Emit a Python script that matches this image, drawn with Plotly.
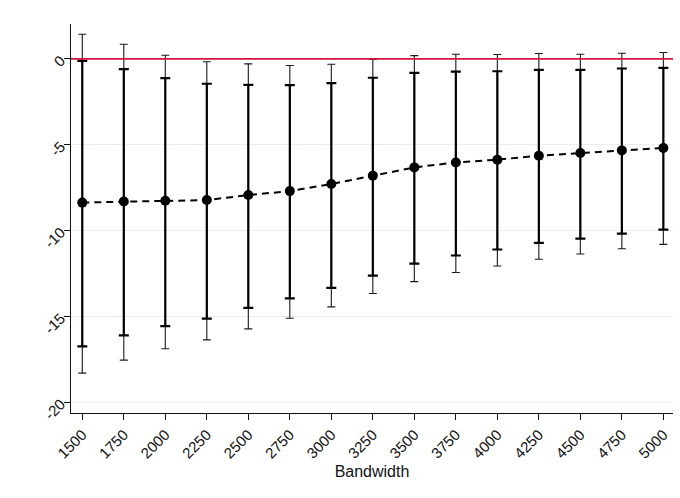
import plotly.graph_objects as go

# Bandwidths and estimated effects with 90% and 95% confidence bounds
bandwidth = [1500, 1750, 2000, 2250, 2500, 2750, 3000, 3250, 3500, 3750, 4000, 4250, 4500, 4750, 5000]
estimate = [-8.37, -8.31, -8.26, -8.22, -7.93, -7.70, -7.29, -6.80, -6.32, -6.03, -5.87, -5.64, -5.48, -5.33, -5.19]
ci90_hi = [-0.12, -0.60, -1.12, -1.45, -1.51, -1.53, -1.41, -1.10, -0.81, -0.74, -0.72, -0.64, -0.64, -0.56, -0.52]
ci90_lo = [-16.74, -16.10, -15.56, -15.12, -14.50, -13.95, -13.33, -12.62, -11.92, -11.45, -11.10, -10.72, -10.47, -10.17, -9.94]
ci95_hi = [1.43, 0.85, 0.21, -0.17, -0.29, -0.39, -0.31, -0.04, 0.19, 0.27, 0.25, 0.31, 0.27, 0.33, 0.37]
ci95_lo = [-18.30, -17.54, -16.88, -16.36, -15.72, -15.10, -14.44, -13.66, -12.97, -12.44, -12.06, -11.67, -11.36, -11.06, -10.80]

y_ticks = [0, -5, -10, -15, -20]
y_tick_text = ["0", "-5", "-10", "-15", "-20"]


def err(bounds, sign):
    return [sign * (b - e) for b, e in zip(bounds, estimate)]


fig = go.Figure()

# 95% interval: thin whiskers
fig.add_trace(go.Scatter(
    x=bandwidth, y=estimate, mode="markers",
    marker=dict(size=1, color="rgba(0,0,0,0)"),
    error_y=dict(type="data", symmetric=False,
                 array=err(ci95_hi, 1), arrayminus=err(ci95_lo, -1),
                 color="#1a1a1a", thickness=1.1, width=4),
    showlegend=False, hoverinfo="skip",
))

# 90% interval: thick whiskers
fig.add_trace(go.Scatter(
    x=bandwidth, y=estimate, mode="markers",
    marker=dict(size=1, color="rgba(0,0,0,0)"),
    error_y=dict(type="data", symmetric=False,
                 array=err(ci90_hi, 1), arrayminus=err(ci90_lo, -1),
                 color="#000000", thickness=2.2, width=5),
    showlegend=False, hoverinfo="skip",
))

# Point estimates joined by a dashed line
fig.add_trace(go.Scatter(
    x=bandwidth, y=estimate, mode="lines+markers",
    line=dict(color="#000000", width=2, dash="7px,5px"),
    marker=dict(size=10, color="#000000"),
    showlegend=False,
))

# Zero reference line
fig.add_shape(type="line", xref="paper", yref="y", x0=0, x1=1, y0=0, y1=0,
              line=dict(color="#d4143e", width=1.6), layer="above")

fig.update_layout(
    width=680, height=498,
    margin=dict(l=71, r=7, t=24, b=85),
    paper_bgcolor="white", plot_bgcolor="white",
    font=dict(family="Liberation Sans, Arial, sans-serif", color="#111111", size=15),
    xaxis=dict(
        range=[1432, 5058],
        tickmode="array", tickvals=bandwidth, ticktext=[str(b) for b in bandwidth],
        tickangle=-45, ticks="outside", ticklen=6, tickcolor="#111111", tickwidth=1,
        showline=True, linecolor="#111111", linewidth=1.2,
        showgrid=False, zeroline=False,
        title=dict(text="Bandwidth", font=dict(size=16), standoff=5),
        tickfont=dict(size=15),
    ),
    yaxis=dict(
        range=[-20.62, 2.03],
        tickmode="array", tickvals=y_ticks, ticktext=y_tick_text,
        tickangle=-45, ticks="outside", ticklen=6, tickcolor="#111111", tickwidth=1,
        showline=True, linecolor="#111111", linewidth=1.2,
        showgrid=True, gridcolor="#e6eef1", gridwidth=1,
        zeroline=False,
        tickfont=dict(size=15),
    ),
)

fig.write_html("out.html")
